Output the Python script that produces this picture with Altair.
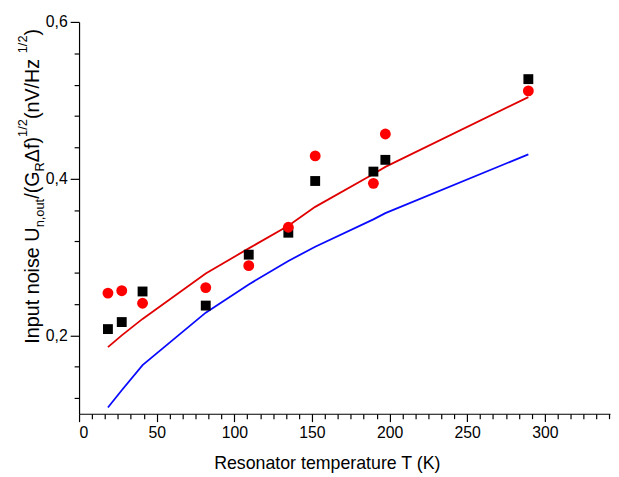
import altair as alt
import pandas as pd

# ---- data ----
temperature_K = [18.6, 27.5, 40.9, 81.6, 109.3, 134.8, 152.1, 189.6, 197.3, 289.4]
noise_squares = [0.208, 0.217, 0.256, 0.238, 0.303, 0.331, 0.397, 0.409, 0.424, 0.527]
noise_circles = [0.254, 0.257, 0.241, 0.261, 0.289, 0.338, 0.429, 0.394, 0.457, 0.512]
model_red = [0.185, 0.200, 0.221, 0.279, 0.311, 0.340, 0.364, 0.406, 0.415, 0.504]
model_blue = [0.108, 0.130, 0.162, 0.229, 0.265, 0.295, 0.313, 0.348, 0.356, 0.431]

x_tick_values = [round(k * 50 / 6, 4) for k in range(0, 42)]
y_tick_values = [round(0.12 + 0.04 * k, 2) for k in range(0, 13)]

FONT = "Liberation Sans"
W, H = 538, 397

pts = pd.DataFrame({"T": temperature_K, "sq": noise_squares, "ci": noise_circles,
                    "red": model_red, "blue": model_blue})

xscale = alt.Scale(domain=[0, 342], nice=False, zero=False)
yscale = alt.Scale(domain=[0.1, 0.6], nice=False, zero=False)

xaxis = alt.Axis(
    values=x_tick_values,
    labelExpr="abs(datum.value/50 - round(datum.value/50)) < 0.001 ? format(datum.value, 'd') : ''",
    tickSize={"condition": {"test": "abs(datum.value/50 - round(datum.value/50)) < 0.001", "value": 8}, "value": 5},
    title="Resonator temperature T (K)",
    titleX=251, titleY=56, titleBaseline="alphabetic", titleAnchor="middle",
    labelFontSize=16, labelPadding=3, titleFontSize=18, titleFontWeight="normal",
    grid=False,
)
yaxis = alt.Axis(
    values=y_tick_values,
    labelExpr="abs(datum.value/0.2 - round(datum.value/0.2)) < 0.001 ? replace(format(datum.value, '.1f'), '.', ',') : ''",
    tickSize={"condition": {"test": "abs(datum.value/0.2 - round(datum.value/0.2)) < 0.001", "value": 9}, "value": 5},
    title=None,
    labelFontSize=16, labelPadding=3,
    grid=False,
)

x_enc = alt.X("T:Q", scale=xscale, axis=xaxis)

blue_line = alt.Chart(pts).mark_line(color="#0a0aff", strokeWidth=1.8).encode(
    x=x_enc, y=alt.Y("blue:Q", scale=yscale, axis=yaxis))
red_line = alt.Chart(pts).mark_line(color="#e00000", strokeWidth=1.8).encode(
    x=x_enc, y=alt.Y("red:Q", scale=yscale, axis=yaxis))
squares = alt.Chart(pts).mark_point(shape="square", filled=True, color="black",
                                    size=100, opacity=1).encode(
    x=x_enc, y=alt.Y("sq:Q", scale=yscale, axis=yaxis))
circles = alt.Chart(pts).mark_point(shape="circle", filled=True, color="#ff0000",
                                    size=121, opacity=1).encode(
    x=x_enc, y=alt.Y("ci:Q", scale=yscale, axis=yaxis))

# ---- rich y-axis title built from pieces (rotated) ----
em = {'I': .278, 'n': .556, 'p': .556, 'u': .556, 't': .278, ' ': .278, 'o': .556,
      'i': .222, 's': .5, 'e': .556, 'U': .722, ',': .278, '/': .278, '(': .333,
      ')': .333, 'G': .778, 'R': .722, 'Δ': .668, 'f': .278, '1': .556, '2': .556,
      'V': .667, 'H': .722, 'z': .5}
pieces = [("Input noise U", "m"), ("n,out", "b"), ("/(G", "m"), ("R", "b"),
          ("Δf)", "m"), ("1/2", "p"), (" (nV/Hz", "m"), ("1/2", "p"), (")", "m")]
MAIN, SMALL = 20, 13
base_x = 39 - 80
shift = {"m": 0, "b": 5, "p": -12}
cur_y = 345 - 19
title_layers = []
for txt, kind in pieces:
    fs = MAIN if kind == "m" else SMALL
    title_layers.append(
        alt.Chart(pts).mark_text(angle=270, align="left", baseline="alphabetic",
                                 font=FONT, fontSize=fs, color="black").encode(
            x=alt.value(base_x + shift[kind]), y=alt.value(cur_y), text=alt.value(txt))
        .transform_filter("datum.T == 18.6")
    )
    cur_y -= sum(em.get(c, .556) for c in txt) * fs

chart = alt.layer(blue_line, red_line, squares, circles, *title_layers).properties(
    width=W, height=H,
    autosize=alt.AutoSizeParams(type="none"),
    padding={"left": 72, "top": 11, "right": 1, "bottom": 61},
).configure(background="white").configure_view(stroke=None).configure_axis(
    domainColor="black", domainWidth=1.2, tickColor="black", tickWidth=1.2,
    labelColor="black", titleColor="black", labelFont=FONT, titleFont=FONT,
    titleFontWeight="normal",
)

chart.save("out.html", embed_options={"renderer": "svg", "actions": False})
